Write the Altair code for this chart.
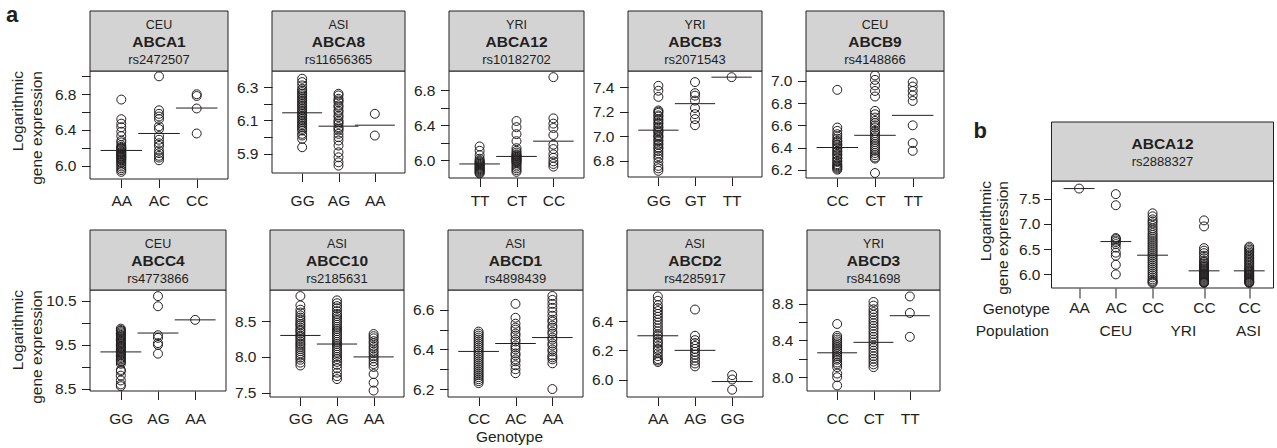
import altair as alt
import pandas as pd

FONT = "Liberation Sans"
INK = "#231f20"
GRAY = "#d3d3d3"

# ---------------- data ----------------
populations = ["CEU", "ASI", "YRI", "YRI", "CEU", "CEU", "ASI", "ASI", "ASI", "YRI"]
genes = ["ABCA1", "ABCA8", "ABCA12", "ABCB3", "ABCB9", "ABCC4", "ABCC10", "ABCD1", "ABCD2", "ABCD3"]
snps = ["rs2472507", "rs11656365", "rs10182702", "rs2071543", "rs4148866",
        "rs4773866", "rs2185631", "rs4898439", "rs4285917", "rs841698"]
genotypes = [["AA", "AC", "CC"], ["GG", "AG", "AA"], ["TT", "CT", "CC"], ["GG", "GT", "TT"],
             ["CC", "CT", "TT"], ["GG", "AG", "AA"], ["GG", "AG", "AA"], ["CC", "AC", "AA"],
             ["AA", "AG", "GG"], ["CC", "CT", "TT"]]

abca1 = [
    [6.74, 6.52, 6.47, 6.43, 6.38, 6.33, 6.28, 6.26, 6.23, 6.21, 6.20, 6.19, 6.18, 6.16, 6.15, 6.14,
     6.13, 6.12, 6.11, 6.10, 6.09, 6.08, 6.07, 6.06, 6.04, 6.03, 6.01, 5.99, 5.97, 5.95, 5.93],
    [7.00, 6.62, 6.58, 6.55, 6.52, 6.44, 6.41, 6.33, 6.29, 6.25, 6.22, 6.17, 6.14, 6.11, 6.09, 6.06],
    [6.80, 6.78, 6.64, 6.36],
]
abca8 = [
    [6.35, 6.33, 6.31, 6.29, 6.28, 6.27, 6.26, 6.25, 6.24, 6.23, 6.22, 6.21, 6.20, 6.19, 6.18, 6.17,
     6.16, 6.15, 6.14, 6.13, 6.12, 6.11, 6.10, 6.09, 6.08, 6.07, 6.06, 6.05, 6.04, 6.02, 6.01, 5.99, 5.94],
    [6.26, 6.25, 6.23, 6.22, 6.21, 6.19, 6.18, 6.16, 6.15, 6.13, 6.12, 6.10, 6.09, 6.08, 6.06, 6.05,
     6.04, 6.02, 6.00, 5.98, 5.95, 5.91, 5.88, 5.85, 5.83],
    [6.14, 6.01],
]
abca12 = [
    [6.16, 6.11, 6.06, 6.02, 6.00, 5.99, 5.98, 5.97, 5.96, 5.95, 5.94, 5.93, 5.92, 5.91, 5.90, 5.89,
     5.88, 5.87, 5.86, 5.85],
    [6.45, 6.38, 6.30, 6.22, 6.14, 6.11, 6.09, 6.07, 6.06, 6.05, 6.04, 6.03, 6.02, 6.01, 6.00, 5.99,
     5.98, 5.97, 5.95, 5.93, 5.91, 5.89, 5.87],
    [6.95, 6.48, 6.42, 6.37, 6.29, 6.18, 6.13, 6.07, 6.03, 5.99, 5.96, 5.93],
]
abcb3 = [
    [7.41, 7.37, 7.32, 7.21, 7.20, 7.19, 7.17, 7.16, 7.14, 7.13, 7.11, 7.10, 7.08, 7.07, 7.05, 7.04,
     7.03, 7.01, 7.00, 6.99, 6.97, 6.96, 6.94, 6.93, 6.91, 6.90, 6.88, 6.86, 6.84, 6.82, 6.79, 6.76,
     6.74, 6.72],
    [7.44, 7.35, 7.33, 7.29, 7.23, 7.18, 7.14, 7.09],
    [7.48],
]
abcb9 = [
    [6.92, 6.58, 6.55, 6.52, 6.50, 6.48, 6.46, 6.45, 6.43, 6.42, 6.40, 6.39, 6.37, 6.36, 6.34, 6.33,
     6.31, 6.30, 6.28, 6.27, 6.25, 6.24, 6.23, 6.22, 6.21, 6.20],
    [7.05, 7.01, 6.96, 6.91, 6.86, 6.73, 6.70, 6.67, 6.64, 6.62, 6.60, 6.58, 6.55, 6.53, 6.51, 6.49,
     6.47, 6.45, 6.43, 6.41, 6.39, 6.37, 6.35, 6.33, 6.31, 6.30, 6.17],
    [6.99, 6.95, 6.91, 6.87, 6.82, 6.60, 6.44, 6.37],
]
abcc4 = [
    [9.87, 9.84, 9.82, 9.79, 9.76, 9.73, 9.71, 9.68, 9.65, 9.62, 9.60, 9.57, 9.54, 9.51, 9.48, 9.46,
     9.43, 9.40, 9.37, 9.35, 9.32, 9.29, 9.26, 9.23, 9.20, 9.17, 9.14, 9.11, 9.07, 8.93, 8.90, 8.80,
     8.69, 8.60, 8.56],
    [10.61, 10.38, 9.72, 9.66, 9.54, 9.50, 9.30],
    [10.07],
]
abcc10 = [
    [8.85, 8.72, 8.66, 8.62, 8.58, 8.55, 8.52, 8.49, 8.46, 8.44, 8.41, 8.38, 8.36, 8.33, 8.30, 8.28,
     8.25, 8.22, 8.19, 8.17, 8.14, 8.11, 8.08, 8.05, 8.02, 7.99, 7.96, 7.92, 7.88],
    [8.79, 8.75, 8.71, 8.68, 8.64, 8.60, 8.57, 8.54, 8.51, 8.48, 8.45, 8.42, 8.39, 8.36, 8.33, 8.30,
     8.27, 8.24, 8.21, 8.18, 8.15, 8.12, 8.09, 8.06, 8.03, 8.00, 7.97, 7.93, 7.89, 7.84, 7.78, 7.73, 7.69],
    [8.32, 8.29, 8.26, 8.22, 8.19, 8.15, 8.12, 8.08, 8.05, 8.01, 7.98, 7.94, 7.90, 7.86, 7.76, 7.64, 7.53],
]
abcd1 = [
    [6.49, 6.48, 6.47, 6.46, 6.45, 6.44, 6.43, 6.42, 6.41, 6.40, 6.39, 6.38, 6.37, 6.36, 6.35, 6.34,
     6.33, 6.32, 6.31, 6.30, 6.29, 6.28, 6.27, 6.26, 6.25, 6.24, 6.23],
    [6.63, 6.56, 6.53, 6.51, 6.50, 6.48, 6.47, 6.45, 6.44, 6.42, 6.41, 6.40, 6.38, 6.37, 6.35, 6.34,
     6.32, 6.30, 6.28],
    [6.67, 6.65, 6.63, 6.61, 6.59, 6.57, 6.55, 6.54, 6.52, 6.51, 6.49, 6.48, 6.46, 6.45, 6.43, 6.42,
     6.40, 6.39, 6.37, 6.36, 6.35, 6.33, 6.20],
]
abcd2 = [
    [6.57, 6.54, 6.51, 6.49, 6.47, 6.45, 6.43, 6.41, 6.39, 6.37, 6.35, 6.33, 6.31, 6.30, 6.28, 6.26,
     6.25, 6.23, 6.21, 6.20, 6.18, 6.16, 6.14, 6.13, 6.12],
    [6.48, 6.30, 6.27, 6.25, 6.23, 6.21, 6.19, 6.17, 6.15, 6.13, 6.11, 6.09],
    [6.03, 6.00, 5.93],
]
abcd3 = [
    [8.58, 8.45, 8.43, 8.41, 8.39, 8.37, 8.35, 8.33, 8.31, 8.29, 8.27, 8.25, 8.23, 8.21, 8.19, 8.16,
     8.14, 8.11, 8.04, 8.00, 7.91],
    [8.82, 8.78, 8.74, 8.71, 8.68, 8.65, 8.62, 8.59, 8.56, 8.53, 8.50, 8.47, 8.44, 8.41, 8.38, 8.35,
     8.32, 8.29, 8.26, 8.23, 8.20, 8.17, 8.14, 8.11],
    [8.88, 8.70, 8.44],
]
panel_values = [abca1, abca8, abca12, abcb3, abcb9, abcc4, abcc10, abcd1, abcd2, abcd3]
group_means = [[6.17, 6.36, 6.645], [6.146, 6.066, 6.072], [5.96, 6.046, 6.22], [7.05, 7.265, 7.48],
               [6.40, 6.51, 6.69], [9.34, 9.77, 10.07], [8.30, 8.18, 8.00], [6.39, 6.43, 6.46],
               [6.30, 6.20, 5.986], [8.266, 8.38, 8.67]]

# panel b
b_gene = "ABCA12"
b_snp = "rs2888327"
b_genotypes = ["AA", "AC", "CC", "CC", "CC"]
b_group_pos = [1, 2, 3, 4.4, 5.63]
b_values = [
    [7.70],
    [7.59, 7.37, 6.72, 6.70, 6.67, 6.64, 6.60, 6.53, 6.43, 6.37, 6.19, 6.00],
    [7.21, 7.15, 7.09, 7.05, 7.01, 6.96, 6.91, 6.87, 6.82, 6.78, 6.74, 6.70, 6.66, 6.62, 6.58, 6.54,
     6.50, 6.46, 6.42, 6.38, 6.34, 6.30, 6.26, 6.22, 6.18, 6.14, 6.10, 6.06, 6.02, 5.98, 5.94, 5.90,
     5.87, 5.85, 5.83],
    [7.07, 6.95, 6.52, 6.47, 6.42, 6.37, 6.32, 6.27, 6.24, 6.21, 6.18, 6.16, 6.14, 6.12, 6.10, 6.08,
     6.06, 6.04, 6.02, 6.00, 5.98, 5.96, 5.94, 5.92, 5.90, 5.88, 5.86, 5.85, 5.84, 5.83],
    [6.55, 6.52, 6.49, 6.46, 6.43, 6.40, 6.37, 6.34, 6.31, 6.28, 6.25, 6.22, 6.19, 6.16, 6.13, 6.10,
     6.08, 6.06, 6.04, 6.02, 6.00, 5.98, 5.96, 5.94, 5.92, 5.90, 5.88, 5.86, 5.85, 5.84, 5.83],
]
b_means = [7.70, 6.65, 6.38, 6.07, 6.07]
b_pops = ["CEU", "YRI", "ASI"]
b_pops_pos = [2.0, 3.84, 5.61]

# ---------------- axes / layout ----------------
y_domains = [[5.85, 7.06], [5.786, 6.396], [5.80, 7.02], [6.67, 7.53], [6.125, 7.09],
             [8.45, 10.75], [7.44, 8.935], [6.16, 6.70], [5.88, 6.614], [7.85, 8.95]]
y_ticks = [[6.0, 6.2, 6.4, 6.6, 6.8, 7.0], [5.9, 6.0, 6.1, 6.2, 6.3], [6.0, 6.2, 6.4, 6.6, 6.8],
           [6.8, 7.0, 7.2, 7.4], [6.2, 6.4, 6.6, 6.8, 7.0], [8.5, 9.0, 9.5, 10.0, 10.5],
           [7.5, 8.0, 8.5], [6.2, 6.3, 6.4, 6.5, 6.6], [6.0, 6.2, 6.4], [8.0, 8.2, 8.4, 8.6, 8.8]]
y_labelled = [[6.0, 6.4, 6.8], [5.9, 6.1, 6.3], [6.0, 6.4, 6.8], [6.8, 7.0, 7.2, 7.4],
              [6.2, 6.4, 6.6, 6.8, 7.0], [8.5, 9.5, 10.5], [7.5, 8.0, 8.5], [6.2, 6.4, 6.6],
              [6.0, 6.2, 6.4], [8.0, 8.4, 8.8]]
widths = [138, 133, 135, 134, 138, 136, 134, 135, 136, 133]
heights = [108, 102, 107, 106, 107, 101, 107, 107, 107, 101]
HDR = 60
one = pd.DataFrame({"k": [0]})


def cond_expr(positions, names):
    expr = f"'{names[-1]}'"
    for p, n in reversed(list(zip(positions[:-1], names[:-1]))):
        expr = f"(datum.value == {p} ? '{n}' : {expr})"
    return expr


def text_layer(txt, x, y, size, weight="normal", align="center", baseline="middle", angle=0):
    return alt.Chart(pd.DataFrame({"t": [txt]})).mark_text(
        font=FONT, fontSize=size, fontWeight=weight, align=align, baseline=baseline,
        angle=angle, color=INK).encode(x=alt.value(x), y=alt.value(y), text="t:N")


def box(x0, x1, y0, y1, fill=None):
    if fill:
        m = alt.Chart(one).mark_rect(fill=fill, stroke=INK, strokeWidth=1)
    else:
        m = alt.Chart(one).mark_rect(fillOpacity=0, stroke=INK, strokeWidth=1)
    return m.encode(x=alt.value(x0), x2=alt.value(x1), y=alt.value(y0), y2=alt.value(y1))


def ytitle_layers(x1, x2, y):
    return [text_layer("Logarithmic", x1, y, 15.5, align="right", angle=270),
            text_layer("gene expression", x2, y, 15.5, align="right", angle=270)]


def panel(i, hmax, extras):
    W, H = widths[i], heights[i]
    df = pd.DataFrame([{"gx": k + 1, "v": v} for k, grp in enumerate(panel_values[i]) for v in grp])
    mdf = pd.DataFrame({"gx": [1, 2, 3], "m": group_means[i]})
    mdf["x1"] = mdf["gx"] - 0.55
    mdf["x2"] = mdf["gx"] + 0.55
    xs = alt.Scale(domain=[0.17, 3.83], nice=False, zero=False)
    ys = alt.Scale(domain=y_domains[i], nice=False, zero=False)
    labs = ",".join(f"'{t:.1f}'" for t in y_labelled[i])
    xax = alt.Axis(values=[1, 2, 3], labelExpr=cond_expr([1, 2, 3], genotypes[i]), title=None,
                   grid=False, domain=False, tickSize=8.5, tickColor=INK, tickWidth=1,
                   labelPadding=6 + (hmax - H), labelFont=FONT, labelFontSize=15.5, labelColor=INK,
                   labelAngle=0, labelFlush=False, labelOverlap=False)
    yax = alt.Axis(values=y_ticks[i], format=".1f",
                   labelExpr=f"indexof([{labs}], datum.label) >= 0 ? datum.label : ''",
                   title=None, grid=False, domain=False, tickSize=8.5, tickColor=INK, tickWidth=1,
                   labelPadding=5.5, labelFont=FONT, labelFontSize=15.5, labelColor=INK,
                   labelFlush=False, labelOverlap=False)
    pts = alt.Chart(df).mark_point(shape="circle", filled=False, size=80, strokeWidth=1,
                                   color=INK, opacity=1).encode(
        x=alt.X("gx:Q", scale=xs, axis=xax), y=alt.Y("v:Q", scale=ys, axis=yax))
    mean = alt.Chart(mdf).mark_rule(color=INK, strokeWidth=1).encode(
        x=alt.X("x1:Q", scale=xs, axis=xax), x2="x2:Q", y=alt.Y("m:Q", scale=ys, axis=yax))
    layers = [pts, mean, box(0, W, 0, H), box(0, W, -HDR, 0, GRAY),
              text_layer(populations[i], W / 2, -46, 12.5),
              text_layer(genes[i], W / 2, -29, 15.5, weight="bold"),
              text_layer(snps[i], W / 2, -11, 13)] + extras(W, H)
    return alt.layer(*layers).properties(width=W, height=H)


none = lambda W, H: []
row1_extra = [lambda W, H: [text_layer("a", -84, -49.3, 22, weight="bold", align="left",
                                       baseline="alphabetic")] + ytitle_layers(-72, -53, 0),
              none, none, none, none]
row2_extra = [lambda W, H: ytitle_layers(-72, -53, 0),
              none,
              lambda W, H: [text_layer("Genotype", 61.5, H + 40, 15.5)],
              none, none]

row1 = alt.hconcat(*[panel(i, 108, row1_extra[i]) for i in range(5)], spacing=7)
row2 = alt.hconcat(*[panel(i + 5, 107, row2_extra[i]) for i in range(5)], spacing=7)
panel_a = alt.vconcat(row1, row2, spacing=20)

# ---------------- panel b ----------------
WB, HB, OFF = 222, 107, 110
bdf = pd.DataFrame([{"gx": b_group_pos[k], "v": v} for k, grp in enumerate(b_values) for v in grp])
bmdf = pd.DataFrame({"gx": b_group_pos, "m": b_means})
bmdf["x1"] = bmdf["gx"] - 0.42
bmdf["x2"] = bmdf["gx"] + 0.42
bpop = pd.DataFrame({"p": b_pops, "gx": b_pops_pos})
bxs = alt.Scale(domain=[0.25, 6.29], nice=False, zero=False)
bys = alt.Scale(domain=[5.73, 7.85], range=[OFF + HB, OFF], nice=False, zero=False)
bxax = alt.Axis(values=b_group_pos, labelExpr=cond_expr(b_group_pos, b_genotypes), title=None,
                grid=False, domain=False, tickSize=10, tickColor=INK, tickWidth=1, labelPadding=2,
                labelFont=FONT, labelFontSize=15.5, labelColor=INK, labelAngle=0,
                labelFlush=False, labelOverlap=False)
byax = alt.Axis(values=[6.0, 6.5, 7.0, 7.5], format=".1f", title=None, grid=False, domain=False,
                tickSize=8, tickColor=INK, tickWidth=1, labelPadding=3.5, labelFont=FONT,
                labelFontSize=15.5, labelColor=INK, labelFlush=False, labelOverlap=False)
b_layers = [
    alt.Chart(bdf).mark_point(shape="circle", filled=False, size=80, strokeWidth=1,
                              color=INK, opacity=1).encode(
        x=alt.X("gx:Q", scale=bxs, axis=bxax), y=alt.Y("v:Q", scale=bys, axis=byax)),
    alt.Chart(bmdf).mark_rule(color=INK, strokeWidth=1).encode(
        x=alt.X("x1:Q", scale=bxs, axis=bxax), x2="x2:Q", y=alt.Y("m:Q", scale=bys, axis=byax)),
    box(0, WB, OFF, OFF + HB),
    box(0, WB, OFF - 59, OFF, GRAY),
    text_layer(b_gene, WB / 2, OFF - 37.5, 15.5, weight="bold"),
    text_layer(b_snp, WB / 2, OFF - 19.5, 13),
    alt.Chart(bpop).mark_text(font=FONT, fontSize=15.5, color=INK, baseline="middle").encode(
        x=alt.X("gx:Q", scale=bxs, axis=bxax), y=alt.value(OFF + HB + 42.5), text="p:N"),
    text_layer("Genotype", -1.6, OFF + HB + 21, 15.5, align="right"),
    text_layer("Population", -2.5, OFF + HB + 42.5, 15.5, align="right"),
    text_layer("b", -78, OFF - 43, 22, weight="bold", align="left", baseline="alphabetic"),
] + ytitle_layers(-66, -49, OFF)
panel_b = alt.layer(*b_layers).properties(width=WB, height=OFF + HB)

chart = alt.hconcat(panel_a, panel_b, spacing=28.5).properties(
    padding={"left": 6, "top": 3, "right": 0, "bottom": 0}, background="white"
).configure_view(stroke="transparent", strokeWidth=0)

chart.save("out.html", embed_options={"renderer": "svg", "actions": False})
